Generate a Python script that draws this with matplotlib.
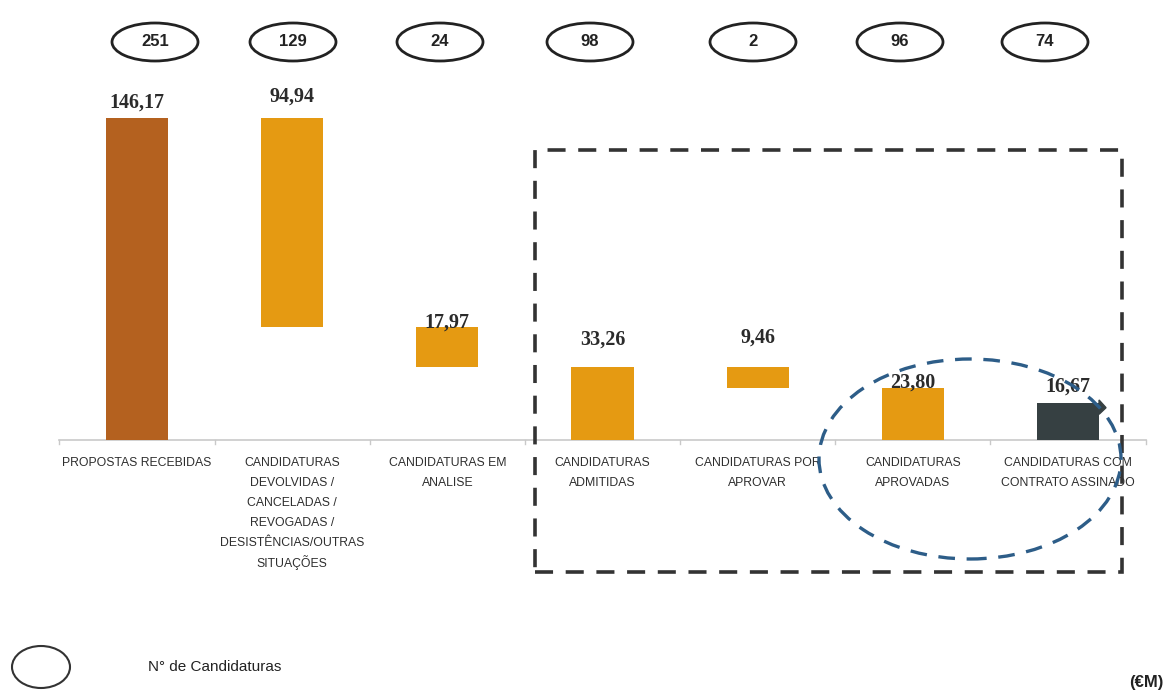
import matplotlib.pyplot as plt
from matplotlib.patches import Ellipse, Rectangle, Polygon

# data
categories = ['PROPOSTAS RECEBIDAS',
              'CANDIDATURAS\nDEVOLVIDAS /\nCANCELADAS /\nREVOGADAS /\nDESISTÊNCIAS/OUTRAS\nSITUAÇÕES',
              'CANDIDATURAS EM\nANALISE',
              'CANDIDATURAS\nADMITIDAS',
              'CANDIDATURAS POR\nAPROVAR',
              'CANDIDATURAS\nAPROVADAS',
              'CANDIDATURAS COM\nCONTRATO ASSINADO']
values = [146.17, 94.94, 17.97, 33.26, 9.46, 23.80, 16.67]
n_candidaturas = [251, 129, 24, 98, 2, 96, 74]
# waterfall: which bars start from the baseline
from_zero = [True, False, False, True, False, True, True]
# floating bars hang down from the previous bar's bottom
bottoms = []
level = 0
for v, z in zip(values, from_zero):
    if z:
        bottoms.append(0)
        level = v
    else:
        bottoms.append(level - v)
        level = level - v

colors = ['#b4611f', '#e59a12', '#e59a12', '#e59a12', '#e59a12', '#e59a12', '#364042']

# layout (pixels)
W, H = 1169, 693
label_gap = [15, 21, 5, 27, 29, 5, 17]
oval_x = [155, 293, 440, 590, 753, 900, 1045]


def fx(p):
    return p / W


def fy(p):
    return 1 - p / H


fig = plt.figure(figsize=(W / 100, H / 100), dpi=100)
ax = fig.add_axes([0, 0, 1, 1])
ax.set_xlim(-137 / 155.17, (W - 137) / 155.17)
ax.set_ylim(-(H - 440) / 2.2029, 440 / 2.2029)
ax.axis('off')

x = list(range(len(values)))
ax.bar(x, values, bottom=bottoms, width=0.4, color=colors, zorder=3)

# baseline with small ticks between categories
ax.plot([-0.5, 6.5], [0, 0], color='#c9c9c9', lw=1.2, zorder=2)
for b in [i + 0.5 for i in range(-1, 7)]:
    ax.plot([b, b], [0, -1.6], color='#c9c9c9', lw=1, zorder=2)

# small arrow tip on the last bar
tx = x[-1] + 0.2
top = values[-1]
ax.add_patch(Polygon([[tx, top + 1.5], [tx + 0.045, top - 2], [tx, top - 5]],
                     closed=True, color=colors[-1], zorder=3))

# value labels
for i, v in enumerate(values):
    ax.annotate(f'{v:.2f}'.replace('.', ','), (i, bottoms[i] + v),
                xytext=(0, label_gap[i] * 0.72), textcoords='offset points',
                ha='center', va='center', fontsize=14.5, fontweight='bold',
                family='Liberation Serif', color='#2b2b2b', zorder=5)

# category labels, one line at a time so the spacing stays even
for i, c in enumerate(categories):
    for k, line in enumerate(c.split('\n')):
        ax.annotate(line, (i, 0), xytext=(0, -(23 + 20 * k) * 0.72),
                    textcoords='offset points', ha='center', va='center',
                    fontsize=8.8, family='Liberation Sans', color='#2e2e2e')

# ovals with number of applications
for xo, n in zip(oval_x, n_candidaturas):
    fig.patches.append(Ellipse((fx(xo), fy(42)), fx(86), 38 / H, transform=fig.transFigure,
                               fill=False, ec='#222222', lw=2))
    fig.text(fx(xo), fy(42), str(n), ha='center', va='center', fontsize=12,
             fontweight='bold', family='Liberation Sans', color='#222222')

# dashed highlight box
fig.patches.append(Rectangle((fx(535), fy(572)), fx(1122 - 535), (572 - 150) / H,
                             transform=fig.transFigure, fill=False, ec='#333333',
                             lw=2.6, ls=(0, (5, 3.5))))
# dashed blue ellipse
fig.patches.append(Ellipse((fx(970), fy(459)), fx(302), 200 / H, transform=fig.transFigure,
                           fill=False, ec='#2d5d88', lw=2.4, ls=(0, (5, 3.5))))

# legend
fig.patches.append(Ellipse((fx(41), fy(667)), fx(58), 42 / H, transform=fig.transFigure,
                           fill=False, ec='#333333', lw=1.5))
fig.text(fx(148), fy(667), 'N° de Candidaturas', ha='left', va='center', fontsize=11,
         family='Liberation Sans', color='#222222')
fig.text(fx(1163), fy(683), '(€M)', ha='right', va='center', fontsize=12,
         fontweight='bold', family='Liberation Sans', color='#222222')

fig.savefig('out.png', dpi=100)
